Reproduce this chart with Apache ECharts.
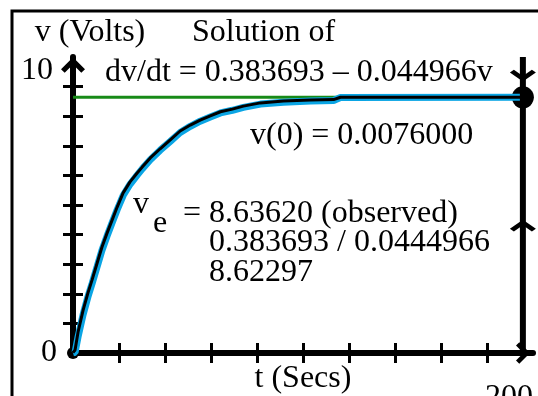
<!DOCTYPE html>
<html>
<head>
<meta charset="utf-8">
<script src="https://cdn.jsdelivr.net/npm/echarts@6/dist/echarts.min.js"></script>
<style>
  html, body { margin: 0; padding: 0; background: #fff; }
  #chart { width: 538px; height: 396px; }
</style>
</head>
<body>
<div id="chart"></div>
<script>
const times = [0, 0.9, 2.2, 4.4, 6.5, 8.3, 10.5, 12.6, 14.8, 17.0, 19.2, 21.8, 24.8, 27.9, 30.1, 33.6,
  37.9, 42.3, 46.6, 51.0, 55.3, 59.7, 64.1, 69.3, 74.1, 81.5, 91.5, 103.3, 113.3, 116.3, 195.6];
// computed solution (black)
const modelV = [0.01, 0.10, 0.71, 1.45, 2.03, 2.47, 3.04, 3.58, 4.05, 4.49, 4.93, 5.41, 5.78, 6.08, 6.28, 6.59,
  6.90, 7.20, 7.50, 7.70, 7.87, 8.01, 8.15, 8.24, 8.34, 8.45, 8.51, 8.55, 8.56, 8.64, 8.64];
// observed trace (blue)
const observedV = [0.00, 0.02, 0.55, 1.30, 1.90, 2.35, 2.92, 3.47, 3.95, 4.40, 4.84, 5.32, 5.70, 6.01, 6.22, 6.53,
  6.85, 7.15, 7.45, 7.66, 7.83, 7.97, 8.11, 8.20, 8.30, 8.41, 8.47, 8.51, 8.53, 8.63, 8.64];

const veObserved = 8.6362;
const tEnd = 195.6;          // phase line position
const phaseDown = 9.37;      // arrow above equilibrium
const phaseUp = 4.3;         // arrow below equilibrium

const xTicks = [20, 40, 60, 80, 100, 120, 140, 160, 180];
const xLabels = [200];
const yTicks = [1, 2, 3, 4, 5, 6, 7, 8, 9];
const yLabels = [0, 10];

const FONT = 'Liberation Serif';
const chevron = 'path://M12,0 L25,13 L21,17 L12,8 L3,17 L-1,13 Z';

const chart = echarts.init(document.getElementById('chart'));

function pairs(xs, ys) {
  return xs.map((x, i) => [x, ys[i]]);
}

function txt(x, y, text) {
  return {
    type: 'text', x: x, y: y + 2, z: 10,
    style: { text: text, font: '32px "' + FONT + '"', fill: '#000', verticalAlign: 'middle' }
  };
}

const xBase = { type: 'value', min: 0, max: 200, interval: 20, position: 'bottom', splitLine: { show: false } };
const yBase = { type: 'value', min: 0, max: 10, interval: 1, position: 'left', splitLine: { show: false } };

chart.setOption({
  animation: false,
  backgroundColor: '#fff',
  textStyle: { fontFamily: FONT, color: '#000' },
  grid: { left: 73, right: 5, top: 57, bottom: 43, containLabel: false, outerBoundsMode: 'none' },
  xAxis: [
    Object.assign({}, xBase, {
      name: 't (Secs)',
      nameLocation: 'middle',
      nameGap: 10,
      nameMoveOverlap: false,
      nameTextStyle: { fontSize: 32, fontFamily: FONT, color: '#000', lineHeight: 32 },
      axisLine: { lineStyle: { color: '#000', width: 6 }, symbol: ['none', chevron], symbolSize: [24, 14], symbolOffset: [0, -10] },
      axisTick: { inside: false, length: 10, lineStyle: { color: '#000', width: 3 }, customValues: xTicks },
      axisLabel: { customValues: xLabels, fontSize: 32, fontFamily: FONT, color: '#000', margin: 29, align: 'right', lineHeight: 32 }
    }),
    Object.assign({}, xBase, {
      axisLine: { show: false },
      axisTick: { inside: true, length: 10, lineStyle: { color: '#000', width: 3 }, customValues: xTicks },
      axisLabel: { show: false }
    })
  ],
  yAxis: [
    Object.assign({}, yBase, {
      name: 'v (Volts)',
      nameLocation: 'end',
      nameGap: 8,
      nameMoveOverlap: false,
      nameTextStyle: { fontSize: 32, fontFamily: FONT, color: '#000', lineHeight: 32, align: 'center', padding: [0, 0, 0, 34] },
      axisLine: { lineStyle: { color: '#000', width: 6 }, symbol: ['none', chevron], symbolSize: [24, 16], symbolOffset: [0, -8] },
      axisTick: { inside: false, length: 10, lineStyle: { color: '#000', width: 3 }, customValues: yTicks },
      axisLabel: {
        customValues: yLabels, fontSize: 32, fontFamily: FONT, color: '#000', margin: 16, lineHeight: 32,
        formatter: v => v === 10 ? '{top|10}' : String(v),
        rich: { top: { fontSize: 32, fontFamily: FONT, color: '#000', lineHeight: 32, padding: [28, 4, 0, 0] } }
      }
    }),
    Object.assign({}, yBase, {
      axisLine: { show: false },
      axisTick: { inside: true, length: 10, lineStyle: { color: '#000', width: 3 }, customValues: yTicks },
      axisLabel: { show: false }
    })
  ],
  graphic: [
    { type: 'rect', z: 10, shape: { x: 12, y: 11, width: 700, height: 600 }, style: { fill: 'none', stroke: '#000', lineWidth: 3 } },
    txt(192, 31, 'Solution of'),
    txt(105, 71, 'dv/dt = 0.383693 \u2013 0.044966v'),
    txt(250, 134, 'v(0) = 0.0076000'),
    txt(133, 203, 'v'),
    txt(153, 222, 'e'),
    txt(183, 212, '= 8.63620 (observed)'),
    txt(209, 241, '0.383693 / 0.0444966'),
    txt(209, 271, '8.62297')
  ],
  series: [
    {
      type: 'line', showSymbol: false, silent: true,
      lineStyle: { color: '#178a17', width: 3 },
      data: [[0, veObserved], [tEnd, veObserved]]
    },
    {
      type: 'line', showSymbol: false, silent: true,
      lineStyle: { color: '#0aa5e4', width: 7 },
      data: pairs(times, observedV)
    },
    {
      type: 'line', showSymbol: false, silent: true,
      lineStyle: { color: '#000', width: 3 },
      data: pairs(times, modelV)
    },
    {
      type: 'line', showSymbol: false, silent: true,
      lineStyle: { color: '#000', width: 6 },
      data: [[tEnd, 0], [tEnd, 10]]
    },
    {
      type: 'scatter', silent: true, symbol: chevron, symbolSize: [26, 18], symbolKeepAspect: true,
      itemStyle: { color: '#000', opacity: 1 },
      data: [
        { value: [tEnd, phaseDown], symbolRotate: 180 },
        { value: [tEnd, phaseUp], symbolRotate: 0 }
      ]
    },
    {
      type: 'scatter', silent: true, symbol: 'circle',
      itemStyle: { color: '#000', opacity: 1 },
      data: [
        { value: [tEnd, veObserved], symbolSize: 22 },
        { value: [0, 0], symbolSize: 12 }
      ]
    }
  ]
});
</script>
</body>
</html>
